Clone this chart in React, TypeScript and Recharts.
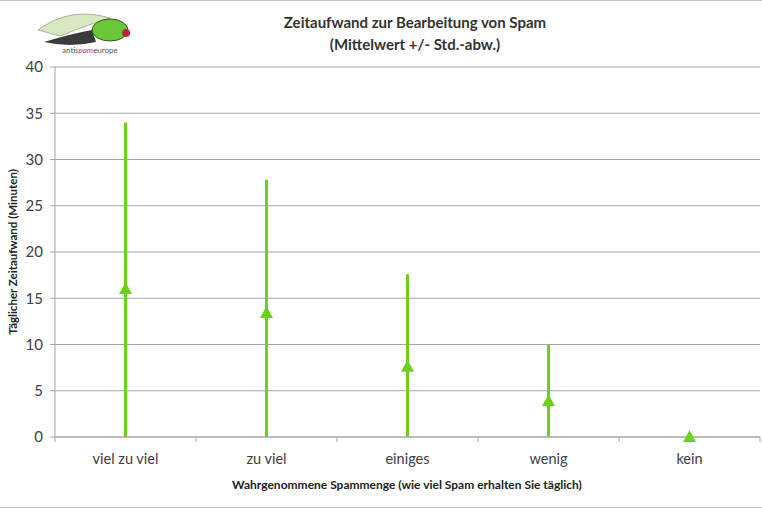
import { ComposedChart, Line, ErrorBar, XAxis, YAxis, CartesianGrid } from "recharts";

const categories = ["viel zu viel", "zu viel", "einiges", "wenig", "kein"];
const means = [16, 13.4, 7.6, 3.9, 0];
const stdDevs = [18, 14.4, 10, 6.1, 0];
const yTicks = [0, 5, 10, 15, 20, 25, 30, 35, 40];

const GREEN = "#6cd01f";
const GRID = "#a6a6a6";
const FONT = "Lato, 'Open Sans', sans-serif";

// lower whisker is cut off at zero like in the original
const rows = categories.map((name, i) => ({
  name,
  mean: means[i],
  err: [Math.min(stdDevs[i], means[i]), stdDevs[i]],
}));

const Triangle = (props: any) => {
  const { cx, cy } = props;
  if (cx == null || cy == null) return null;
  return (
    <polygon
      points={`${cx},${cy - 7} ${cx - 6.5},${cy + 5} ${cx + 6.5},${cy + 5}`}
      fill={GREEN}
    />
  );
};

const CatTick = (props: any) => {
  const { x, y, payload, index } = props;
  const half = payload.offset || 70.5;
  return (
    <g>
      <line x1={x - half} x2={x - half} y1={y - 8} y2={y - 3} stroke={GRID} />
      {index === categories.length - 1 && (
        <line x1={x + half} x2={x + half} y1={y - 8} y2={y - 3} stroke={GRID} />
      )}
      <text x={x} y={y + 19} textAnchor="middle" fontSize={14.5} fill="#404040" fontFamily={FONT}>
        {payload.value}
      </text>
    </g>
  );
};

export default function App() {
  return (
    <div style={{ position: "absolute", left: 0, top: 0, width: 762, height: 508, background: "#fff" }}>
      <div
        style={{
          position: "absolute",
          inset: 0,
          borderTop: "1px solid #c8c8c8",
          borderBottom: "1px solid #c8c8c8",
          pointerEvents: "none",
        }}
      />
      <svg width={762} height={508} style={{ position: "absolute", left: 0, top: 0 }}>
        {/* rough logo */}
        <g>
          <path d="M38,30 Q70,6 110,18 Q90,24 60,36 Z" fill="#d8e8c0" stroke="#8a9a80" strokeWidth={0.7} />
          <path d="M44,42 Q70,34 92,30 L96,42 Q70,48 44,42 Z" fill="#3b3b3b" />
          <ellipse cx={110} cy={30} rx={18} ry={11} fill="#6cc63a" stroke="#2f5f1a" strokeWidth={1} />
          <circle cx={126} cy={33} r={4} fill="#c02040" />
          <text x={62} y={53} fontSize={8} fontFamily={FONT} fill="#555">
            anti<tspan fill="#d0306a" fontStyle="italic">spam</tspan>europe
          </text>
        </g>
        <text x={415} y={28} textAnchor="middle" fontSize={15} fontWeight="bold" fill="#333" fontFamily={FONT}>
          Zeitaufwand zur Bearbeitung von Spam
        </text>
        <text x={415} y={50} textAnchor="middle" fontSize={15} fontWeight="bold" fill="#333" fontFamily={FONT}>
          (Mittelwert +/- Std.-abw.)
        </text>
        <text
          x={0}
          y={0}
          transform="translate(17,252) rotate(-90)"
          textAnchor="middle"
          fontSize={11.5}
          fontWeight="bold"
          fill="#222"
          fontFamily={FONT}
        >
          Täglicher Zeitaufwand (Minuten)
        </text>
        <text x={407} y={489} textAnchor="middle" fontSize={12} fontWeight="bold" fill="#222" fontFamily={FONT}>
          Wahrgenommene Spammenge (wie viel Spam erhalten Sie täglich)
        </text>
      </svg>
      <div style={{ position: "absolute", left: 0, top: 0 }}>
        <ComposedChart
          width={762}
          height={508}
          data={rows}
          margin={{ top: 67, right: 2, left: 0, bottom: 41 }}
        >
          <CartesianGrid vertical={false} stroke={GRID} />
          <XAxis
            dataKey="name"
            scale="band"
            height={30}
            axisLine={{ stroke: GRID }}
            tickLine={false}
            tick={<CatTick />}
            interval={0}
          />
          <YAxis
            domain={[0, 40]}
            ticks={yTicks}
            width={55}
            axisLine={{ stroke: GRID }}
            tickLine={{ stroke: GRID }}
            tickSize={5}
            tickMargin={7}
            tick={{ fontSize: 15, fill: "#404040", fontFamily: FONT }}
          />
          <Line
            dataKey="mean"
            stroke="none"
            dot={<Triangle />}
            activeDot={false}
            isAnimationActive={false}
          >
            <ErrorBar dataKey="err" width={0} stroke={GREEN} strokeWidth={3} direction="y" />
          </Line>
        </ComposedChart>
      </div>
    </div>
  );
}
